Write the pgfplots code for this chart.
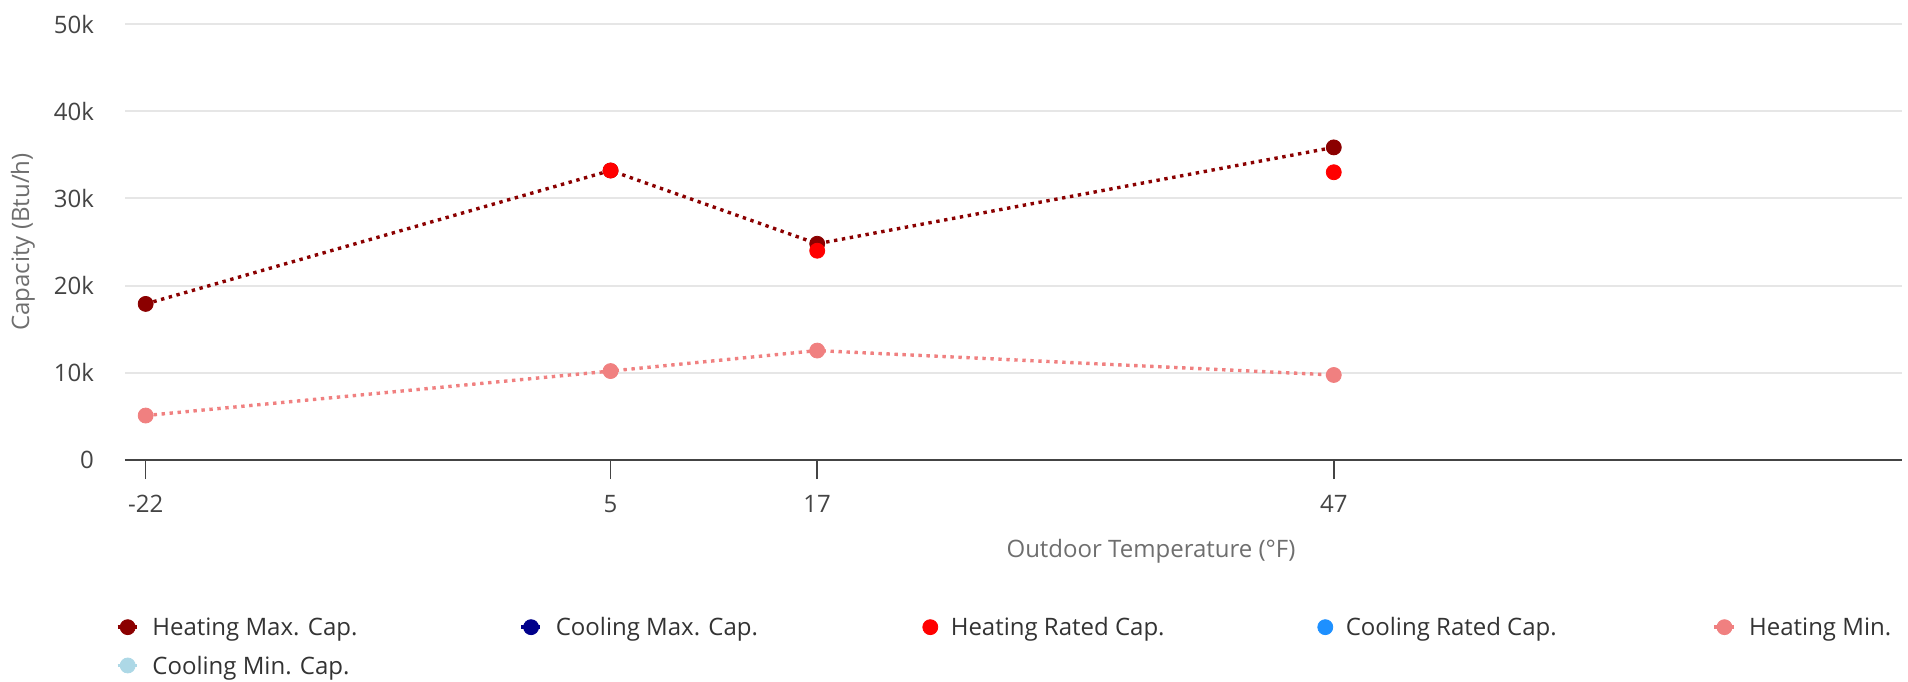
\documentclass[border=0pt]{standalone}
\usepackage{fontspec}
\setmainfont{Open Sans}
\usepackage{pgfplots}
\pgfplotsset{compat=1.18}
\definecolor{hmax}{HTML}{8B0000}
\definecolor{cmax}{HTML}{00008B}
\definecolor{hrated}{HTML}{FF0000}
\definecolor{crated}{HTML}{1E90FF}
\definecolor{hmin}{HTML}{F08080}
\definecolor{cmin}{HTML}{ADD8E6}
\definecolor{gridc}{HTML}{E6E6E6}
\definecolor{axc}{HTML}{444444}
\definecolor{tickc}{HTML}{444444}
\definecolor{labc}{HTML}{6E6E6E}
\definecolor{legc}{HTML}{333333}

\pgfplotstableread{
x y
-22 17900
5 33200
17 24800
47 35850
}\heatmax
\pgfplotstableread{
x y
5 33200
17 24000
47 33000
}\heatrated
\pgfplotstableread{
x y
-22 5100
5 10200
17 12550
47 9750
}\heatmin

\newcommand{\lent}[1]{\hspace{6.5pt}\makebox[183.5pt][l]{\strut #1}}

\begin{document}
\begin{tikzpicture}[font=\fontsize{12pt}{14.5pt}\selectfont]
\path[use as bounding box] (-62.5pt,-110.5pt) rectangle (891.5pt,230pt);
\begin{axis}[
  scale only axis, width=888.5pt, height=218pt,
  xmin=-23.2, xmax=80, ymin=0, ymax=50000,
  scaled y ticks=false, scaled x ticks=false,
  axis x line*=bottom, axis y line*=left,
  x axis line style={axc, line width=1.2pt, -},
  y axis line style={draw=none},
  ymajorgrids, grid style={gridc, line width=1pt},
  xtick={-22,5,17,47}, xticklabels={-22,5,17,47},
  ytick={0,10000,20000,30000,40000,50000},
  yticklabels={0,10k,20k,30k,40k,50k},
  tick align=outside, major tick length=9.5pt,
  x tick style={axc, line width=0.8pt},
  y tick style={draw=none},
  xticklabel style={tickc, anchor=center, yshift=-12.5pt},
  yticklabel style={tickc, anchor=east, xshift=-2.5pt},
  every axis x label/.style={at={(axis description cs:0.5774,-0.2087)}, anchor=center, labc},
  every axis y label/.style={at={(axis description cs:-0.0574,0.5)}, rotate=90, anchor=center, labc},
  xlabel={Outdoor Temperature (°F)},
  ylabel={Capacity (Btu/h)},
  clip=false,
  legend columns=5,
  legend cell align=left,
  legend style={at={(axis description cs:-0.00507,-0.3567)}, anchor=north west,
    draw=none, fill=none, inner sep=0pt, outer sep=0pt,
    nodes={inner sep=0pt, text=legc}, column sep=0pt, row sep=7.5pt,
    cells={anchor=west}},
  legend image code/.code={\draw[mark repeat=2, mark phase=2, #1] plot coordinates {(-5pt,0pt) (0pt,0pt) (5pt,0pt)};},
  every axis plot/.append style={line width=1.7pt, dash pattern=on 1.7pt off 2.3pt, mark=*, mark size=3.75pt},
]
\addplot[color=hmax, mark options={solid, fill=hmax, line width=0.4pt}] table {\heatmax};
\addlegendentry{\lent{Heating Max. Cap.}}
\addlegendimage{color=cmax, mark options={solid, fill=cmax, line width=0.4pt}}
\addlegendentry{\lent{Cooling Max. Cap.}}
\addplot[only marks, color=hrated, mark options={solid, fill=hrated, line width=0.4pt}] table {\heatrated};
\addlegendentry{\lent{Heating Rated Cap.}}
\addlegendimage{only marks, color=crated, mark options={solid, fill=crated, line width=0.4pt}}
\addlegendentry{\lent{Cooling Rated Cap.}}
\addplot[color=hmin, mark options={solid, fill=hmin, line width=0.4pt}] table {\heatmin};
\addlegendentry{\lent{Heating Min.}}
\addlegendimage{color=cmin, mark options={solid, fill=cmin, line width=0.4pt}}
\addlegendentry{\lent{Cooling Min. Cap.}}
\end{axis}
\end{tikzpicture}
\end{document}
